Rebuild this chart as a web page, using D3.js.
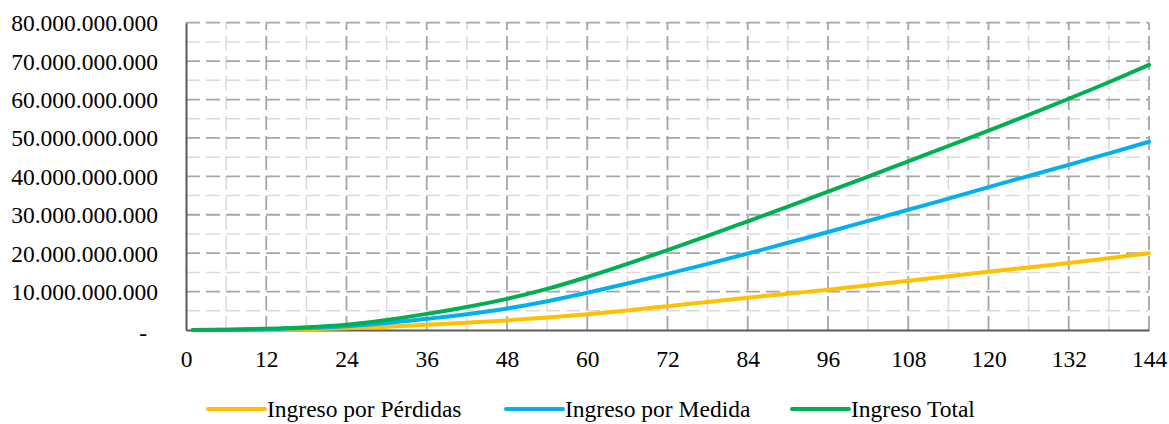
<!DOCTYPE html>
<html>
<head>
<meta charset="utf-8">
<script src="https://cdn.jsdelivr.net/npm/d3@7"></script>
<style>
  html, body { margin: 0; padding: 0; background: #fff; }
  svg { display: block; }
  text { font-family: 'Liberation Serif'; fill: #000; }
</style>
</head>
<body>
<svg id="chart" width="1169" height="424"></svg>
<script>
// Months at which each series is sampled
const months = [1, 6, 12, 18, 24, 30, 36, 42, 48, 54, 60, 66, 72, 78, 84, 90, 96, 102, 108, 114, 120, 126, 132, 138, 144];

// Revenue series (in pesos)
const ingresoPerdidas = [0.01e9, 0.03e9, 0.1e9, 0.22e9, 0.45e9, 0.85e9, 1.35e9, 1.9e9, 2.5e9, 3.25e9, 4.1e9, 5.1e9, 6.2e9, 7.3e9, 8.4e9, 9.45e9, 10.5e9, 11.65e9, 12.8e9, 14.0e9, 15.15e9, 16.3e9, 17.45e9, 18.7e9, 20.0e9];
const ingresoMedida = [0.01e9, 0.05e9, 0.2e9, 0.5e9, 1.0e9, 1.8e9, 2.9e9, 4.1e9, 5.6e9, 7.5e9, 9.7e9, 12.1e9, 14.6e9, 17.2e9, 19.9e9, 22.7e9, 25.5e9, 28.4e9, 31.3e9, 34.2e9, 37.2e9, 40.1e9, 43.0e9, 46.0e9, 49.0e9];
const ingresoTotal = [0.02e9, 0.08e9, 0.3e9, 0.7e9, 1.4e9, 2.6e9, 4.2e9, 6.0e9, 8.1e9, 10.7e9, 13.8e9, 17.2e9, 20.8e9, 24.5e9, 28.3e9, 32.1e9, 36.0e9, 39.9e9, 43.9e9, 47.9e9, 51.9e9, 56.0e9, 60.2e9, 64.5e9, 69.0e9];

const seriesNames = ["Ingreso por Pérdidas", "Ingreso por Medida", "Ingreso Total"];
const seriesColors = ["#FFC000", "#00B0F0", "#00B050"];
const seriesValues = [ingresoPerdidas, ingresoMedida, ingresoTotal];

// Axis ticks
const xTicks = [0, 12, 24, 36, 48, 60, 72, 84, 96, 108, 120, 132, 144];
const xMinorTicks = [6, 18, 30, 42, 54, 66, 78, 90, 102, 114, 126, 138];
const yTicks = [0, 10e9, 20e9, 30e9, 40e9, 50e9, 60e9, 70e9, 80e9];
const yMinorTicks = [5e9, 15e9, 25e9, 35e9, 45e9, 55e9, 65e9, 75e9];

const FONT = "'Liberation Serif'";
const FONT_SIZE = "23.5px";

const svg = d3.select("#chart");
const plot = { left: 186, right: 1149, top: 22.7, bottom: 330 };

const x = d3.scaleLinear().domain([0, 144]).range([plot.left, plot.right]);
const y = d3.scaleLinear().domain([0, 80e9]).range([plot.bottom, plot.top]);

// Thousands separated with dots, zero shown as a dash
const fmtNum = v => v === 0 ? "-" : d3.format(",")(v).replace(/,/g, ".");

const grid = svg.append("g");
const dash = "14,6";

// Minor gridlines
grid.selectAll(".hminor").data(yMinorTicks).join("line")
  .attr("x1", plot.left).attr("x2", plot.right)
  .attr("y1", d => y(d)).attr("y2", d => y(d))
  .attr("stroke", "#d9d9d9").attr("stroke-width", 1.5).attr("stroke-dasharray", dash);
grid.selectAll(".vminor").data(xMinorTicks).join("line")
  .attr("x1", d => x(d)).attr("x2", d => x(d))
  .attr("y1", plot.bottom).attr("y2", plot.top)
  .attr("stroke", "#d9d9d9").attr("stroke-width", 1.5).attr("stroke-dasharray", dash);

// Major gridlines
grid.selectAll(".hmajor").data(yTicks.filter(d => d > 0)).join("line")
  .attr("x1", plot.left).attr("x2", plot.right)
  .attr("y1", d => y(d)).attr("y2", d => y(d))
  .attr("stroke", "#a6a6a6").attr("stroke-width", 1.8).attr("stroke-dasharray", dash);
grid.selectAll(".vmajor").data(xTicks.filter(d => d > 0)).join("line")
  .attr("x1", d => x(d)).attr("x2", d => x(d))
  .attr("y1", plot.bottom).attr("y2", plot.top)
  .attr("stroke", "#a6a6a6").attr("stroke-width", 1.8).attr("stroke-dasharray", dash);

// Axes
const yAxis = svg.append("g")
  .attr("transform", `translate(${plot.left},0)`)
  .call(d3.axisLeft(y).tickValues(yTicks).tickFormat(fmtNum).tickSize(0).tickPadding(28));
yAxis.attr("font-family", FONT).attr("font-size", FONT_SIZE);
yAxis.select(".domain").attr("stroke", "#595959").attr("stroke-width", 2);
yAxis.selectAll("text")
  .style("font-family", FONT).style("font-size", FONT_SIZE)
  .attr("dx", d => d === 0 ? -11 : 0)
  .attr("dy", d => d === 0 ? "0.45em" : "0.34em");

const xAxis = svg.append("g")
  .attr("transform", `translate(0,${plot.bottom})`)
  .call(d3.axisBottom(x).tickValues(xTicks).tickFormat(d3.format("d")).tickSize(0).tickPadding(20));
xAxis.attr("font-family", FONT).attr("font-size", FONT_SIZE);
xAxis.select(".domain").attr("stroke", "#595959").attr("stroke-width", 2);
xAxis.selectAll("text").style("font-family", FONT).style("font-size", FONT_SIZE);

// Series lines
const line = d3.line().x(d => x(d[0])).y(d => y(d[1])).curve(d3.curveMonotoneX);
svg.append("g").selectAll("path").data(seriesValues).join("path")
  .attr("d", vals => line(months.map((m, i) => [m, vals[i]])))
  .attr("fill", "none")
  .attr("stroke", (d, i) => seriesColors[i])
  .attr("stroke-width", 4)
  .attr("stroke-linejoin", "round")
  .attr("stroke-linecap", "round");

// Legend
const legendX = [208, 506, 792];
const legend = svg.append("g").attr("transform", "translate(0,409)");
const item = legend.selectAll("g").data(seriesNames).join("g")
  .attr("transform", (d, i) => `translate(${legendX[i]},0)`);
item.append("line")
  .attr("x1", 0).attr("x2", 57).attr("y1", 0).attr("y2", 0)
  .attr("stroke", (d, i) => seriesColors[i]).attr("stroke-width", 4)
  .attr("stroke-linecap", "round");
item.append("text")
  .attr("x", 59).attr("y", 0).attr("dy", "0.34em")
  .style("font-family", FONT).style("font-size", FONT_SIZE)
  .text(d => d);
</script>
</body>
</html>
